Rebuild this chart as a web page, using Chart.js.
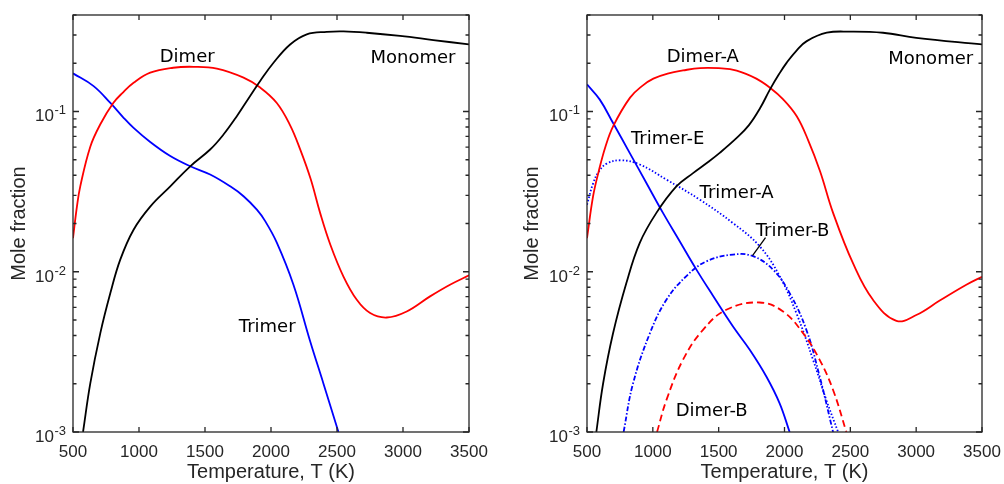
<!DOCTYPE html>
<html>
<head>
<meta charset="utf-8">
<script src="https://cdn.jsdelivr.net/npm/chart.js@4"></script>
<style>
  body { margin: 0; background: #fff; }
  .panel { position: absolute; top: 0; }
</style>
</head>
<body>
<div class="panel" style="left:0"><canvas id="leftChart" width="500" height="484"></canvas></div>
<div class="panel" style="left:500px"><canvas id="rightChart" width="504" height="484"></canvas></div>
<script>
// ---- data (temperature in K, mole fraction) ----
// left panel
const tMonoL = [576, 631, 707, 783, 858, 959, 1085, 1237, 1388, 1539, 1640, 1741, 1842, 1918, 2019, 2145, 2271, 2423, 2550, 2725, 2978, 3230, 3500];
const monoL = [0.001, 0.00201, 0.00414, 0.00736, 0.0119, 0.0183, 0.0255, 0.0341, 0.0455, 0.0579, 0.0718, 0.0935, 0.125, 0.155, 0.2014, 0.262, 0.303, 0.314, 0.316, 0.310, 0.296, 0.279, 0.262];
const tDimerL = [500, 530, 555, 631, 707, 805, 880, 959, 1085, 1259, 1413, 1590, 1792, 1918, 2044, 2145, 2221, 2300, 2372, 2449, 2549, 2650, 2751, 2877, 3028, 3205, 3356, 3500];
const dimerL = [0.0162, 0.0256, 0.0341, 0.0603, 0.0832, 0.113, 0.1318, 0.151, 0.1746, 0.1875, 0.19, 0.185, 0.1625, 0.141, 0.113, 0.082, 0.058, 0.038, 0.0233, 0.0148, 0.00933, 0.00668, 0.00552, 0.00518, 0.00565, 0.00702, 0.0083, 0.0095];
const tTrimerL = [500, 656, 783, 880, 959, 1085, 1237, 1388, 1539, 1691, 1792, 1893, 1956, 2044, 2170, 2296, 2397, 2511];
const trimerL = [0.173, 0.144, 0.113, 0.092, 0.079, 0.0645, 0.0527, 0.0455, 0.0404, 0.0341, 0.0296, 0.0244, 0.0207, 0.0152, 0.0083, 0.0037, 0.00201, 0.001];

// right panel
const tMonoR = [571, 622, 697, 799, 900, 1027, 1179, 1308, 1420, 1508, 1637, 1730, 1814, 1890, 1960, 2017, 2093, 2169, 2321, 2495, 2748, 3001, 3500];
const monoR = [0.001, 0.002, 0.0041, 0.0085, 0.0151, 0.0233, 0.0341, 0.0414, 0.0484, 0.0552, 0.0684, 0.0822, 0.1047, 0.1374, 0.1718, 0.2018, 0.241, 0.2748, 0.31, 0.315, 0.31, 0.288, 0.262];
const tDimerA = [500, 546, 587, 640, 700, 827, 920, 1004, 1120, 1229, 1358, 1500, 1637, 1786, 1890, 1990, 2093, 2180, 2270, 2369, 2520, 2672, 2850, 3001, 3179, 3381, 3500];
const dimerA = [0.0162, 0.0295, 0.0417, 0.0603, 0.0813, 0.122, 0.1445, 0.1603, 0.173, 0.1803, 0.1866, 0.1862, 0.1799, 0.1603, 0.1406, 0.1189, 0.0933, 0.0661, 0.0424, 0.0233, 0.0113, 0.00668, 0.00494, 0.00537, 0.00661, 0.0083, 0.0093];
const tDimerB = [1032, 1103, 1229, 1381, 1558, 1811, 1989, 2141, 2267, 2369, 2470];
const dimerB = [0.001, 0.00158, 0.00282, 0.00434, 0.00579, 0.00643, 0.00565, 0.00414, 0.00282, 0.00183, 0.001];
const tTrimerE = [500, 596, 697, 824, 951, 1077, 1204, 1330, 1457, 1609, 1736, 1862, 1963, 2039];
const trimerE = [0.1476, 0.119, 0.085, 0.0552, 0.0358, 0.0233, 0.0155, 0.01035, 0.00708, 0.00455, 0.00326, 0.00222, 0.00151, 0.001];
const tTrimerA = [500, 546, 590, 650, 761, 900, 1103, 1356, 1609, 1812, 1963, 2090, 2217, 2318, 2407];
const trimerA = [0.0262, 0.0355, 0.0422, 0.0473, 0.0496, 0.0467, 0.0376, 0.0282, 0.0201, 0.0144, 0.0094, 0.00552, 0.00282, 0.00158, 0.001];
const tTrimerB = [778, 849, 976, 1103, 1255, 1406, 1609, 1761, 1913, 2039, 2166, 2267, 2369];
const trimerB = [0.001, 0.002, 0.0041, 0.00668, 0.0094, 0.0116, 0.0128, 0.0125, 0.0103, 0.00736, 0.00434, 0.00222, 0.001];

// ticks
const xTicks = [500, 1000, 1500, 2000, 2500, 3000, 3500];
const xTickLabels = ['500', '1000', '1500', '2000', '2500', '3000', '3500'];
const yTicks = [0.001, 0.01, 0.1];
const yTickExps = ['-3', '-2', '-1'];

// curve names written on the plot (at data coordinates, text baseline)
const labelsLeft = [
  { text: 'Dimer', t: 1365, v: 0.2047 },
  { text: 'Monomer', t: 3076, v: 0.2014 },
  { text: 'Trimer', t: 1971, v: 0.00422 }
];
const labelsRight = [
  { text: 'Dimer-A', t: 1379, v: 0.2047 },
  { text: 'Monomer', t: 3110, v: 0.1986 },
  { text: 'Trimer-E', t: 1113, v: 0.0631 },
  { text: 'Trimer-A', t: 1636, v: 0.0289 },
  { text: 'Trimer-B', t: 2061, v: 0.0168 },
  { text: 'Dimer-B', t: 1447, v: 0.00126 }
];
const leaderRight = [{ t: 1856, v: 0.0163 }, { t: 1757, v: 0.0126 }];

const AXIS_COLOR = '#262626';

function line(label, ts, vs, color, dash) {
  return {
    label: label,
    data: ts.map((t, i) => ({ x: t, y: vs[i] })),
    borderColor: color,
    borderWidth: 1.8,
    borderDash: dash || [],
    pointRadius: 0,
    fill: false,
    tension: 0.4,
    clip: 0
  };
}

// frame, inward ticks, tick labels and curve names (MATLAB look)
const axesBox = {
  id: 'axesBox',
  afterDatasetsDraw(chart, args, opts) {
    const { ctx, chartArea: a, scales: { x, y } } = chart;
    ctx.save();

    // curve names
    ctx.fillStyle = '#000';
    ctx.font = '18px "DejaVu Sans"';
    ctx.textAlign = 'center';
    ctx.textBaseline = 'alphabetic';
    (opts.labels || []).forEach(l => {
      ctx.fillText(l.text, x.getPixelForValue(l.t), y.getPixelForValue(l.v));
    });
    if (opts.leader) {
      ctx.strokeStyle = '#000';
      ctx.lineWidth = 1.3;
      ctx.beginPath();
      ctx.moveTo(x.getPixelForValue(opts.leader[0].t), y.getPixelForValue(opts.leader[0].v));
      ctx.lineTo(x.getPixelForValue(opts.leader[1].t), y.getPixelForValue(opts.leader[1].v));
      ctx.stroke();
    }

    // box
    ctx.strokeStyle = AXIS_COLOR;
    ctx.lineWidth = 1.3;
    ctx.strokeRect(a.left, a.top, a.right - a.left, a.bottom - a.top);

    // ticks
    ctx.beginPath();
    xTicks.forEach(v => {
      const px = x.getPixelForValue(v);
      ctx.moveTo(px, a.bottom); ctx.lineTo(px, a.bottom - 5);
      ctx.moveTo(px, a.top); ctx.lineTo(px, a.top + 5);
    });
    yTicks.forEach(d => {
      const py = y.getPixelForValue(d);
      ctx.moveTo(a.left, py); ctx.lineTo(a.left + 6, py);
      ctx.moveTo(a.right, py); ctx.lineTo(a.right - 6, py);
      for (let k = 2; k <= 9; k++) {
        const v = d * k;
        if (v > y.max * 1.0001) break;
        const pm = y.getPixelForValue(v);
        ctx.moveTo(a.left, pm); ctx.lineTo(a.left + 3.5, pm);
        ctx.moveTo(a.right, pm); ctx.lineTo(a.right - 3.5, pm);
      }
    });
    ctx.stroke();

    // tick labels
    ctx.fillStyle = AXIS_COLOR;
    ctx.font = '17px "Liberation Sans"';
    ctx.textAlign = 'center';
    xTicks.forEach((v, i) => {
      ctx.fillText(xTickLabels[i], x.getPixelForValue(v), a.bottom + 25);
    });
    ctx.textAlign = 'right';
    yTicks.forEach((v, i) => {
      const py = y.getPixelForValue(v);
      ctx.font = '13px "Liberation Sans"';
      const ew = ctx.measureText(yTickExps[i]).width;
      ctx.fillText(yTickExps[i], a.left - 7, py + 3);
      ctx.font = '17px "Liberation Sans"';
      ctx.fillText('10', a.left - 7 - ew - 0.5, py + 10);
    });

    ctx.restore();
  }
};

function makeChart(id, datasets, yAxisWidth, rightPad, titlePad, labels, leader) {
  return new Chart(document.getElementById(id).getContext('2d'), {
    type: 'line',
    data: { datasets: datasets },
    options: {
      responsive: false,
      animation: false,
      layout: { padding: { left: 0, right: rightPad, top: 15, bottom: 0 } },
      plugins: {
        legend: { display: false },
        tooltip: { enabled: false },
        axesBox: { labels: labels, leader: leader }
      },
      scales: {
        x: {
          type: 'linear',
          min: 500,
          max: 3500,
          grid: { display: false },
          border: { display: false },
          ticks: { display: false },
          title: {
            display: true,
            text: 'Temperature, T (K)',
            color: AXIS_COLOR,
            font: { family: 'Liberation Sans', size: 20 },
            padding: { top: 0, bottom: 0 }
          },
          afterFit: s => { s.height = 52; }
        },
        y: {
          type: 'logarithmic',
          min: 0.001,
          max: 0.4,
          grid: { display: false },
          border: { display: false },
          ticks: { display: false },
          title: {
            display: true,
            text: 'Mole fraction',
            color: AXIS_COLOR,
            font: { family: 'Liberation Sans', size: 20 },
            padding: { top: titlePad, bottom: 0 }
          },
          afterFit: s => { s.width = yAxisWidth; }
        }
      }
    },
    plugins: [axesBox]
  });
}

makeChart('leftChart', [
  line('Monomer', tMonoL, monoL, '#000000'),
  line('Dimer', tDimerL, dimerL, '#ff0000'),
  line('Trimer', tTrimerL, trimerL, '#0000ff')
], 73, 31, 7.5, labelsLeft, null);

makeChart('rightChart', [
  line('Monomer', tMonoR, monoR, '#000000'),
  line('Dimer-A', tDimerA, dimerA, '#ff0000'),
  line('Dimer-B', tDimerB, dimerB, '#ff0000', [7, 4]),
  line('Trimer-E', tTrimerE, trimerE, '#0000ff'),
  line('Trimer-A', tTrimerA, trimerA, '#0000ff', [1.5, 2]),
  line('Trimer-B', tTrimerB, trimerB, '#0000ff', [5, 2, 1.5, 2])
], 87, 22, 20, labelsRight, leaderRight);
</script>
</body>
</html>
